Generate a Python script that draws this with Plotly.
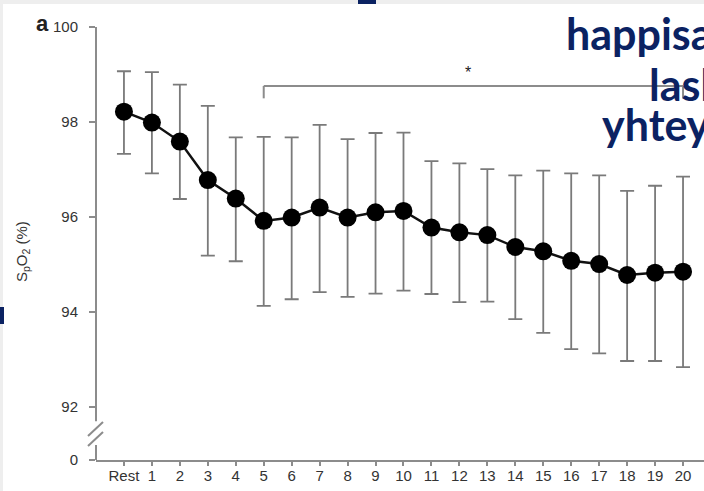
import plotly.graph_objects as go

# ---- data ----
labels = ["Rest", "1", "2", "3", "4", "5", "6", "7", "8", "9", "10",
          "11", "12", "13", "14", "15", "16", "17", "18", "19", "20"]
spo2_mean = [98.22, 97.99, 97.59, 96.78, 96.39, 95.92, 95.99, 96.20, 95.99, 96.10, 96.13,
             95.78, 95.68, 95.62, 95.37, 95.28, 95.08, 95.01, 94.78, 94.83, 94.85]
spo2_upper = [99.07, 99.05, 98.79, 98.34, 97.68, 97.69, 97.68, 97.94, 97.64, 97.77, 97.78,
              97.18, 97.13, 97.01, 96.88, 96.98, 96.92, 96.88, 96.55, 96.66, 96.85]
spo2_lower = [97.33, 96.92, 96.38, 95.19, 95.07, 94.13, 94.27, 94.42, 94.32, 94.39, 94.45,
              94.38, 94.21, 94.22, 93.85, 93.56, 93.22, 93.13, 92.97, 92.97, 92.84]
ytick_vals = [92, 94, 96, 98, 100]
sig_start, sig_end = 5, 20
overlay_lines = ["happisa", "lask", "yhtey"]

# ---- layout geometry ----
W, H = 704, 491
ML, MR, MT, MB = 96, 0, 10, 31
PW, PH = W - ML - MR, H - MT - MB
ZERO_POS = 90.885          # where the broken axis shows "0"
Y_TOP = 100.36

def px(x):  # pixel x -> paper
    return (x - ML) / PW

def py(y):  # pixel y -> paper
    return (H - MB - y) / PH

x_idx = list(range(len(labels)))
err_plus = [u - m for u, m in zip(spo2_upper, spo2_mean)]
err_minus = [m - l for m, l in zip(spo2_mean, spo2_lower)]

AXC = "#8c8c8c"
TXT = "#333333"
FONT = "Liberation Sans, Arial, sans-serif"
NAVY = "#0b2262"

fig = go.Figure()
fig.add_trace(go.Scatter(
    x=x_idx, y=spo2_mean, mode="lines+markers",
    line=dict(color="#111111", width=2.5),
    marker=dict(color="#000000", size=18),
    error_y=dict(type="data", symmetric=False, array=err_plus, arrayminus=err_minus,
                 color="#7a7a7a", thickness=1.8, width=7),
    showlegend=False, hoverinfo="skip",
))

shapes = []
# background bands
shapes.append(dict(type="rect", xref="paper", yref="paper", x0=px(0), x1=px(W), y0=py(0), y1=py(4),
                   fillcolor="#eeeeee", line_width=0, layer="below"))
shapes.append(dict(type="rect", xref="paper", yref="paper", x0=px(0), x1=px(3), y0=py(0), y1=py(H),
                   fillcolor="#eeeeee", line_width=0, layer="below"))
shapes.append(dict(type="rect", xref="paper", yref="paper", x0=px(358), x1=px(376), y0=py(0), y1=py(4),
                   fillcolor=NAVY, line_width=0, layer="above"))
shapes.append(dict(type="rect", xref="paper", yref="paper", x0=px(0), x1=px(4), y0=py(307), y1=py(324),
                   fillcolor=NAVY, line_width=0, layer="above"))
# broken y axis line
shapes.append(dict(type="line", xref="paper", yref="y", x0=0, x1=0, y0=100, y1=91.70,
                   line=dict(color=AXC, width=2)))
shapes.append(dict(type="line", xref="paper", yref="y", x0=0, x1=0, y0=91.20, y1=ZERO_POS,
                   line=dict(color=AXC, width=2)))
# break slashes
for off in (0, 10):
    shapes.append(dict(type="line", xref="paper", yref="paper",
                       x0=px(88), x1=px(103), y0=py(436 + off), y1=py(422 + off),
                       line=dict(color=AXC, width=2)))
# significance bracket
sig_y = 98.76
sig_drop = 98.50
shapes.append(dict(type="line", xref="x", yref="y", x0=sig_start, x1=sig_end, y0=sig_y, y1=sig_y,
                   line=dict(color=AXC, width=2)))
for xs in (sig_start, sig_end):
    shapes.append(dict(type="line", xref="x", yref="y", x0=xs, x1=xs, y0=sig_y, y1=sig_drop,
                       line=dict(color=AXC, width=2)))

annotations = [
    dict(text="*", x=(sig_start + sig_end) / 2 - 0.2, y=sig_y, xref="x", yref="y",
         yanchor="bottom", showarrow=False, yshift=3, font=dict(size=16, color="#222", family=FONT)),
    dict(text="<b>a</b>", x=px(42), y=py(24), xref="paper", yref="paper", showarrow=False,
         xanchor="center", yanchor="middle", font=dict(size=22, color="#222", family=FONT)),
    dict(text="S<sub>p</sub>O<sub>2</sub> (%)", x=px(22), y=py(252), xref="paper", yref="paper",
         textangle=-90, showarrow=False, xanchor="center", yanchor="middle",
         font=dict(size=15, color=TXT, family=FONT)),
]
line_pos = [(564, 33), (647, 85), (600, 125)]
for txt, (lx, ly) in zip(overlay_lines, line_pos):
    annotations.append(dict(text="<b>" + txt + "</b>", x=px(lx), y=py(ly), xref="paper", yref="paper",
                            xanchor="left", yanchor="middle", showarrow=False,
                            font=dict(size=43, color=NAVY, family="Lato")))

fig.update_layout(
    width=W, height=H,
    margin=dict(l=ML, r=MR, t=MT, b=MB, pad=0),
    paper_bgcolor="white", plot_bgcolor="white",
    font=dict(family=FONT, color=TXT, size=15),
    shapes=shapes, annotations=annotations,
    xaxis=dict(range=[-1, 20.75], tickmode="array", tickvals=x_idx, ticktext=labels,
               showgrid=False, zeroline=False, showline=True, linecolor=AXC, linewidth=2,
               ticks="outside", ticklen=4, tickwidth=1.5, tickcolor=AXC,
               tickfont=dict(size=15, color=TXT, family=FONT), ticklabelstandoff=-3),
    yaxis=dict(range=[ZERO_POS, Y_TOP], tickmode="array",
               tickvals=[ZERO_POS] + ytick_vals, ticktext=["0"] + [str(v) for v in ytick_vals],
               showgrid=False, zeroline=False, showline=False,
               ticks="outside", ticklen=6, tickwidth=1.5, tickcolor=AXC,
               tickfont=dict(size=15, color=TXT, family=FONT), ticklabelstandoff=8),
)

fig.write_html("out.html", config={"displayModeBar": False},
               post_script="document.body.style.margin='0';document.body.style.overflow='hidden';")
